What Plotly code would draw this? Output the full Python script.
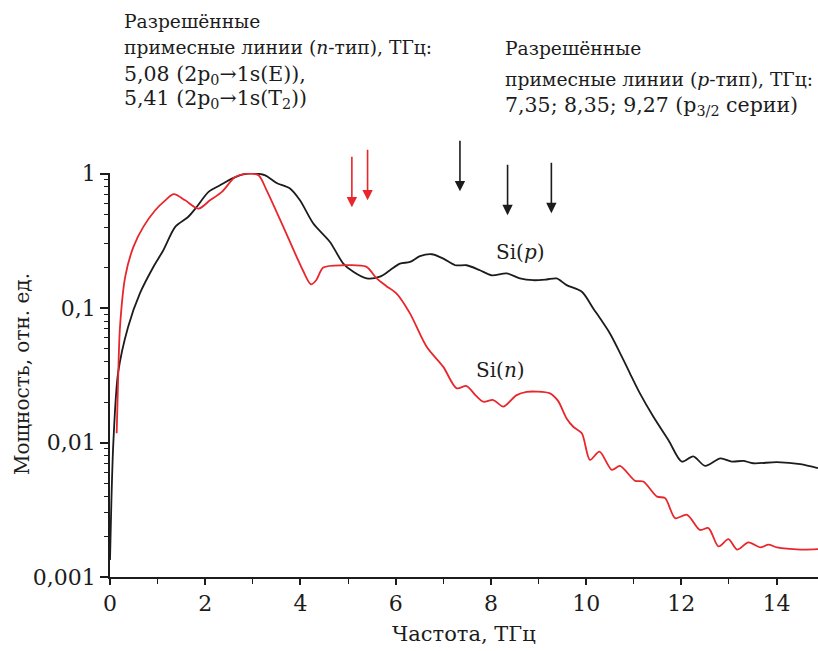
import math
import plotly.graph_objects as go

# ---- data ----
freq_p = [0.0, 0.03, 0.07, 0.17, 0.38, 0.63, 0.91, 1.12, 1.37, 1.64, 1.82, 2.07, 2.31, 2.56, 2.80,
          3.05, 3.26, 3.50, 3.78, 3.99, 4.27, 4.62, 4.90, 5.11, 5.39, 5.67, 5.88, 6.09, 6.30, 6.51,
          6.76, 7.00, 7.25, 7.49, 7.77, 8.02, 8.33, 8.61, 8.89, 9.17, 9.38, 9.59, 9.91, 10.15,
          10.50, 10.75, 10.92, 11.13, 11.41, 11.73, 12.01, 12.25, 12.50, 12.82, 13.06, 13.30,
          13.51, 14.01, 14.50, 14.87]
power_p = [0.00134, 0.00375, 0.0099, 0.0329, 0.0724, 0.129, 0.202, 0.269, 0.401, 0.475, 0.564,
           0.730, 0.817, 0.916, 0.986, 1.0, 0.97, 0.851, 0.773, 0.632, 0.425, 0.310, 0.214, 0.186,
           0.166, 0.171, 0.191, 0.214, 0.220, 0.243, 0.251, 0.233, 0.208, 0.208, 0.191, 0.175,
           0.181, 0.166, 0.161, 0.163, 0.166, 0.148, 0.132, 0.0993, 0.0647, 0.0435, 0.0327,
           0.0232, 0.0156, 0.0104, 0.00721, 0.00789, 0.00670, 0.00763, 0.00721, 0.00730,
           0.00701, 0.00714, 0.00690, 0.00644]

freq_n = [0.14, 0.17, 0.21, 0.32, 0.49, 0.70, 0.95, 1.16, 1.34, 1.58, 1.86, 2.10, 2.35, 2.63,
          2.91, 3.12, 3.29, 3.64, 3.92, 4.05, 4.22, 4.33, 4.48, 4.90, 5.38, 5.60, 5.80, 6.02,
          6.30, 6.65, 7.00, 7.28, 7.49, 7.69, 7.84, 8.05, 8.26, 8.54, 8.75, 8.96, 9.24, 9.41,
          9.59, 9.73, 9.91, 10.08, 10.28, 10.54, 10.71, 11.03, 11.20, 11.49, 11.66, 11.87,
          12.12, 12.39, 12.57, 12.78, 12.99, 13.17, 13.41, 13.66, 13.83, 14.01, 14.50, 14.87]
power_n = [0.0117, 0.0292, 0.0724, 0.171, 0.284, 0.401, 0.533, 0.632, 0.702, 0.632, 0.548, 0.632,
           0.730, 0.942, 0.998, 0.97, 0.750, 0.401, 0.240, 0.191, 0.150, 0.161, 0.200, 0.208,
           0.203, 0.166, 0.146, 0.128, 0.0912, 0.0515, 0.0365, 0.0253, 0.0263, 0.0222, 0.0201,
           0.0207, 0.0185, 0.0225, 0.0238, 0.0239, 0.0232, 0.0204, 0.0151, 0.0131, 0.0117,
           0.00743, 0.00855, 0.00626, 0.00670, 0.00519, 0.00513, 0.00396, 0.00386, 0.00274,
           0.00290, 0.00224, 0.00231, 0.00169, 0.00191, 0.00160, 0.00181, 0.00166, 0.00174,
           0.00166, 0.00160, 0.00161]

lines_n = [5.08, 5.41]          # THz, n-type lines (red arrows)
lines_p = [7.35, 8.35, 9.27]    # THz, p-type lines (black arrows)
arrow_tip_n = [0.561, 0.632]    # arrow tip levels (rel. units)
arrow_tip_p = [0.738, 0.490, 0.507]

ytick_vals = [0.001, 0.01, 0.1, 1]
ytick_text = ["0,001", "0,01", "0,1", "1"]
xtick_vals = [0, 2, 4, 6, 8, 10, 12, 14]

BLACK = "#1c1c1c"
RED = "#e8262b"
FONT = "DejaVu Serif"

W, H = 818, 651
L, R, T, B = 110, 0, 173, 74


def px(xp):
    return (xp - L) / (W - L - R)


def py(yp):
    return (H - B - yp) / (H - T - B)


fig = go.Figure()
fig.add_trace(go.Scatter(x=freq_p, y=power_p, mode="lines",
                         line=dict(color=BLACK, width=1.8, shape="spline", smoothing=0.8),
                         showlegend=False))
fig.add_trace(go.Scatter(x=freq_n, y=power_n, mode="lines",
                         line=dict(color=RED, width=1.8, shape="spline", smoothing=0.8),
                         showlegend=False))

ann = []
for f, t in zip(lines_n, arrow_tip_n):
    ann.append(dict(x=f, y=math.log10(t), xref="x", yref="y", text="", showarrow=True,
                    ax=0, ay=-52, arrowcolor=RED, arrowwidth=1.6, arrowhead=2, arrowsize=1.3))
for f, t in zip(lines_p, arrow_tip_p):
    ann.append(dict(x=f, y=math.log10(t), xref="x", yref="y", text="", showarrow=True,
                    ax=0, ay=-52, arrowcolor=BLACK, arrowwidth=1.6, arrowhead=2, arrowsize=1.3))

small, big = 18.7, 20.5
text_lines = [
    ("Разрешённые", 122, 22, small),
    ("примесные линии (<i>n</i>-тип), ТГц:", 122, 48, small),
    ("5,08 (2p<sub>0</sub>→1s(E)),", 122, 75, big),
    ("5,41 (2p<sub>0</sub>→1s(T<sub>2</sub>))", 122, 99, big),
    ("Разрешённые", 503, 49, small),
    ("примесные линии (<i>p</i>-тип), ТГц:", 503, 79, small),
    ("7,35; 8,35; 9,27 (p<sub>3/2</sub> серии)", 503, 106, big),
]
for txt, xp, yp, fs in text_lines:
    ann.append(dict(x=px(xp), y=py(yp), xref="paper", yref="paper", text=txt, showarrow=False,
                    xanchor="left", yanchor="middle", font=dict(family=FONT, size=fs, color=BLACK)))

ann.append(dict(x=8.63, y=-0.585, xref="x", yref="y", text="Si(<i>p</i>)", showarrow=False,
                xanchor="center", yanchor="middle", font=dict(family=FONT, size=20, color=BLACK)))
ann.append(dict(x=8.21, y=-1.461, xref="x", yref="y", text="Si(<i>n</i>)", showarrow=False,
                xanchor="center", yanchor="middle", font=dict(family=FONT, size=20, color=BLACK)))

ann.append(dict(x=px(464), y=py(634), xref="paper", yref="paper", text="Частота, ТГц",
                xanchor="center", yanchor="middle",
                showarrow=False, font=dict(family=FONT, size=21, color=BLACK)))
ann.append(dict(x=px(22), y=py(374), xref="paper", yref="paper", text="Мощность, отн. ед.",
                xanchor="center", yanchor="middle",
                showarrow=False, textangle=-90, font=dict(family=FONT, size=20, color=BLACK)))

minor_y = [m * 10 ** e for e in (-3, -2, -1) for m in range(2, 10)]

fig.update_layout(
    width=W, height=H, margin=dict(l=L, r=R, t=T, b=B),
    paper_bgcolor="white", plot_bgcolor="white",
    font=dict(family=FONT, color=BLACK),
    annotations=ann,
    xaxis=dict(range=[0, 14.87], tickmode="array", tickvals=xtick_vals,
               ticks="outside", ticklen=6, tickwidth=1.5, tickcolor=BLACK,
               showline=True, linecolor=BLACK, linewidth=1.5, showgrid=False, zeroline=False,
               tickfont=dict(family=FONT, size=22, color=BLACK),
               minor=dict(dtick=1, tick0=0, ticks="outside", ticklen=5, tickwidth=1.3,
                          tickcolor=BLACK, showgrid=False)),
    yaxis=dict(type="log", range=[-3, 0.004], tickmode="array", tickvals=ytick_vals,
               ticktext=ytick_text, ticks="outside", ticklen=8, tickwidth=1.5, tickcolor=BLACK,
               showline=True, linecolor=BLACK, linewidth=1.5, showgrid=False, zeroline=False,
               tickfont=dict(family=FONT, size=22, color=BLACK),
               minor=dict(tickmode="array", tickvals=minor_y, ticks="outside", ticklen=4,
                          tickwidth=1.3, tickcolor=BLACK, showgrid=False)),
)

fig.write_html("out.html")
